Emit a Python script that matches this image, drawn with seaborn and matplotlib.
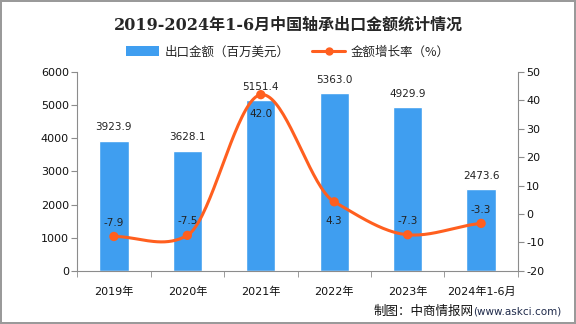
import numpy as np
import pandas as pd
import seaborn as sns
import matplotlib.pyplot as plt
from matplotlib.lines import Line2D
from matplotlib.patches import Patch

years = ['2019年', '2020年', '2021年', '2022年', '2023年', '2024年1-6月']
export_value = [3923.9, 3628.1, 5151.4, 5363.0, 4929.9, 2473.6]
growth_rate = [-7.9, -7.5, 42.0, 4.3, -7.3, -3.3]

bar_color = '#3f9ef0'
line_color = '#ff5f1f'
grey = '#8c8c8c'

sns.set_style('white')
plt.rcParams['font.family'] = ['DejaVu Sans', 'Noto Sans CJK SC']
plt.rcParams['axes.unicode_minus'] = False

df = pd.DataFrame({'year': years, 'value': export_value, 'rate': growth_rate})

fig = plt.figure(figsize=(5.76, 3.24), dpi=100)
fig.patch.set_edgecolor('#9a9a9a')
fig.patch.set_linewidth(1.5)
ax = fig.add_axes([0.134, 0.164, 0.765, 0.614])

sns.barplot(data=df, x='year', y='value', color=bar_color, width=0.4,
            saturation=1, ax=ax, zorder=2)
ax.set_ylim(0, 6000)
ax.set_yticks(range(0, 6001, 1000))
ax.set_xlim(-0.5, len(years) - 0.5)
ax.set_xlabel('')
ax.set_ylabel('')
for container in ax.containers:
    ax.bar_label(container, fmt='%.1f', fontsize=7.5, padding=6, color='#222222')

ax2 = ax.twinx()
ax2.set_ylim(-20, 50)
ax2.set_yticks(range(-20, 51, 10))

# smoothed growth curve: cardinal (Hermite) spline through the data points
xs = np.arange(len(growth_rate), dtype=float)
ys = np.array(growth_rate)
c = 0.6
m = np.empty_like(ys)
m[1:-1] = c * (ys[2:] - ys[:-2]) / 2
m[0] = c * (ys[1] - ys[0])
m[-1] = c * (ys[-1] - ys[-2])
t = np.linspace(0, 1, 40)
h00 = 2 * t ** 3 - 3 * t ** 2 + 1
h10 = t ** 3 - 2 * t ** 2 + t
h01 = -2 * t ** 3 + 3 * t ** 2
h11 = t ** 3 - t ** 2
sx, sy = [], []
for i in range(len(ys) - 1):
    sx.append(xs[i] + t)
    sy.append(h00 * ys[i] + h10 * m[i] + h01 * ys[i + 1] + h11 * m[i + 1])
curve = pd.DataFrame({'x': np.concatenate(sx), 'y': np.concatenate(sy)})
sns.lineplot(data=curve, x='x', y='y', color=line_color, linewidth=2.2, ax=ax2,
             sort=False, estimator=None)
sns.scatterplot(x=xs, y=ys, color=line_color, s=45, edgecolor='none', ax=ax2, zorder=5)
ax2.set_xlabel('')
ax2.set_ylabel('')

for i, v in enumerate(growth_rate):
    off = -14 if v > 0 else 10
    ax2.annotate(f'{v:.1f}', (i, v), xytext=(0, off), textcoords='offset points',
                 ha='center', va='center', fontsize=7.5, color='#222222')

for a in (ax, ax2):
    for s in a.spines.values():
        s.set_color(grey)
    a.spines['top'].set_visible(False)
    a.tick_params(axis='y', length=4, color=grey, labelsize=8, labelcolor='#111111', direction='out')
ax.spines['right'].set_visible(False)
ax2.spines['left'].set_visible(False)
ax2.spines['bottom'].set_visible(False)
ax.tick_params(axis='y', left=True, pad=2)
ax2.tick_params(axis='y', right=True, pad=2)

ax.set_xticks(np.arange(len(years) + 1) - 0.5, minor=True)
ax.tick_params(axis='x', which='minor', bottom=True, length=4, color=grey)
ax.tick_params(axis='x', which='major', bottom=False, labelsize=8, labelcolor='#111111', pad=8)
for lab in ax.get_xticklabels():
    lab.set_family(['DejaVu Sans', 'Noto Sans CJK SC'])

fig.text(0.5, 0.922, '2019-2024年1-6月中国轴承出口金额统计情况', ha='center', va='center',
         fontsize=11.5, fontweight='bold', family=['DejaVu Serif', 'Noto Sans CJK SC'])

handles = [Patch(facecolor=bar_color, edgecolor='none'),
           Line2D([0], [0], color=line_color, lw=2.2, marker='o', markersize=5)]
fig.legend(handles, ['出口金额（百万美元）', '金额增长率（%）'], loc='center',
           bbox_to_anchor=(0.5, 0.84), ncol=2, frameon=False,
           handlelength=2.6, handleheight=0.9, columnspacing=1.8, handletextpad=0.5,
           prop={'family': ['Noto Sans CJK SC', 'DejaVu Sans'], 'size': 9})

fig.text(0.822, 0.04, '制图：中商情报网', ha='right', va='center', fontsize=9,
         family=['Noto Sans CJK SC'], color='#111111')
fig.text(0.822, 0.04, '(www.askci.com)', ha='left', va='center', fontsize=7.5,
         color='#1f2a4a')

fig.savefig('out.png', dpi=100)
